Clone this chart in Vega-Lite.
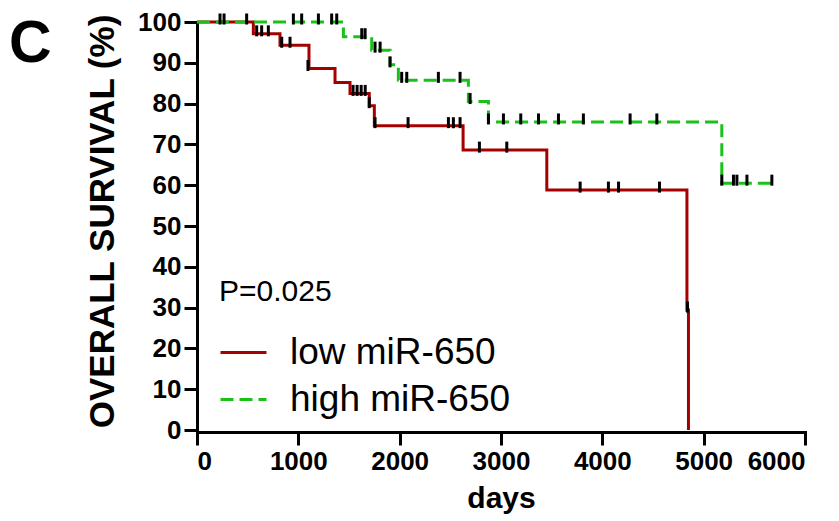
{
  "$schema": "https://vega.github.io/schema/vega-lite/v6.json",
  "width": 608,
  "height": 408,
  "autosize": {"type": "none"},
  "padding": {"left": 197, "top": 22, "right": 34, "bottom": 91},
  "background": "white",
  "title": {"text": "C", "anchor": "start", "frame": "group", "orient": "top", "offset": -112, "baseline": "alphabetic", "align": "left", "dx": -188, "fontSize": 59, "fontWeight": "bold", "font": "Liberation Sans", "color": "black"},
  "datasets": {
    "curves": [
      {"group": "low miR-650", "day": 0, "survival": 100},
      {"group": "low miR-650", "day": 556, "survival": 97.1},
      {"group": "low miR-650", "day": 819, "survival": 94.3},
      {"group": "low miR-650", "day": 1105, "survival": 88.6},
      {"group": "low miR-650", "day": 1362, "survival": 85.2},
      {"group": "low miR-650", "day": 1510, "survival": 82.5},
      {"group": "low miR-650", "day": 1700, "survival": 79.5},
      {"group": "low miR-650", "day": 1750, "survival": 74.6},
      {"group": "low miR-650", "day": 2626, "survival": 68.6},
      {"group": "low miR-650", "day": 3452, "survival": 58.8},
      {"group": "low miR-650", "day": 4835, "survival": 29.4},
      {"group": "low miR-650", "day": 4850, "survival": 0},
      {"group": "high miR-650", "day": 0, "survival": 100},
      {"group": "high miR-650", "day": 1445, "survival": 96.4},
      {"group": "high miR-650", "day": 1724, "survival": 93.1},
      {"group": "high miR-650", "day": 1905, "survival": 89.5},
      {"group": "high miR-650", "day": 1987, "survival": 85.7},
      {"group": "high miR-650", "day": 2678, "survival": 80.5},
      {"group": "high miR-650", "day": 2876, "survival": 75.5},
      {"group": "high miR-650", "day": 5179, "survival": 60.5},
      {"group": "high miR-650", "day": 5673, "survival": 60.5}
    ],
    "censor": [
      {"group": "high miR-650", "day": 227, "survival": 100},
      {"group": "low miR-650", "day": 267, "survival": 100},
      {"group": "low miR-650", "day": 490, "survival": 100},
      {"group": "high miR-650", "day": 951, "survival": 100},
      {"group": "high miR-650", "day": 1033, "survival": 100},
      {"group": "high miR-650", "day": 1198, "survival": 100},
      {"group": "high miR-650", "day": 1329, "survival": 100},
      {"group": "high miR-650", "day": 1379, "survival": 100},
      {"group": "low miR-650", "day": 589, "survival": 97.1},
      {"group": "low miR-650", "day": 638, "survival": 97.1},
      {"group": "low miR-650", "day": 704, "survival": 97.1},
      {"group": "low miR-650", "day": 836, "survival": 94.3},
      {"group": "low miR-650", "day": 918, "survival": 94.3},
      {"group": "low miR-650", "day": 1095, "survival": 88.6},
      {"group": "low miR-650", "day": 1540, "survival": 82.5},
      {"group": "low miR-650", "day": 1580, "survival": 82.5},
      {"group": "low miR-650", "day": 1620, "survival": 82.5},
      {"group": "low miR-650", "day": 1660, "survival": 82.5},
      {"group": "low miR-650", "day": 1700, "survival": 79.5},
      {"group": "low miR-650", "day": 1757, "survival": 74.6},
      {"group": "low miR-650", "day": 2083, "survival": 74.6},
      {"group": "low miR-650", "day": 2481, "survival": 74.6},
      {"group": "low miR-650", "day": 2530, "survival": 74.6},
      {"group": "low miR-650", "day": 2596, "survival": 74.6},
      {"group": "low miR-650", "day": 2787, "survival": 68.6},
      {"group": "low miR-650", "day": 3057, "survival": 68.6},
      {"group": "low miR-650", "day": 3781, "survival": 58.8},
      {"group": "low miR-650", "day": 4060, "survival": 58.8},
      {"group": "low miR-650", "day": 4160, "survival": 58.8},
      {"group": "low miR-650", "day": 4564, "survival": 58.8},
      {"group": "low miR-650", "day": 4840, "survival": 29.4},
      {"group": "high miR-650", "day": 1626, "survival": 96.4},
      {"group": "high miR-650", "day": 1659, "survival": 96.4},
      {"group": "high miR-650", "day": 1757, "survival": 93.1},
      {"group": "high miR-650", "day": 1807, "survival": 93.1},
      {"group": "high miR-650", "day": 1905, "survival": 89.5},
      {"group": "high miR-650", "day": 2020, "survival": 85.7},
      {"group": "high miR-650", "day": 2070, "survival": 85.7},
      {"group": "high miR-650", "day": 2382, "survival": 85.7},
      {"group": "high miR-650", "day": 2596, "survival": 85.7},
      {"group": "high miR-650", "day": 2695, "survival": 80.5},
      {"group": "high miR-650", "day": 2876, "survival": 75.5},
      {"group": "high miR-650", "day": 3024, "survival": 75.5},
      {"group": "high miR-650", "day": 3195, "survival": 75.5},
      {"group": "high miR-650", "day": 3370, "survival": 75.5},
      {"group": "high miR-650", "day": 3567, "survival": 75.5},
      {"group": "high miR-650", "day": 3813, "survival": 75.5},
      {"group": "high miR-650", "day": 4274, "survival": 75.5},
      {"group": "high miR-650", "day": 4538, "survival": 75.5},
      {"group": "high miR-650", "day": 5179, "survival": 60.5},
      {"group": "high miR-650", "day": 5294, "survival": 60.5},
      {"group": "high miR-650", "day": 5328, "survival": 60.5},
      {"group": "high miR-650", "day": 5427, "survival": 60.5},
      {"group": "high miR-650", "day": 5673, "survival": 60.5}
    ]
  },
  "layer": [
    {
      "data": {"name": "curves"},
      "mark": {"type": "line", "interpolate": "step-after", "strokeWidth": 3},
      "encoding": {
        "x": {"field": "day", "type": "quantitative", "scale": {"domain": [0, 6000], "nice": false}, "axis": {"title": "days", "values": [0, 1000, 2000, 3000, 4000, 5000, 6000], "format": "d", "offset": 2, "titleFontSize": 30, "titlePadding": 9}},
        "y": {"field": "survival", "type": "quantitative", "scale": {"domain": [0, 100], "nice": false}, "axis": {"title": "OVERALL SURVIVAL (%)", "values": [0, 10, 20, 30, 40, 50, 60, 70, 80, 90, 100], "titleFontSize": 35, "titlePadding": 17, "titleY": 199}},
        "color": {"field": "group", "type": "nominal", "title": "P=0.025", "scale": {"domain": ["low miR-650", "high miR-650"], "range": ["#a50000", "#19c119"]}},
        "strokeDash": {"field": "group", "type": "nominal", "title": "P=0.025", "scale": {"domain": ["low miR-650", "high miR-650"], "range": [[1, 0], [13, 6]]}}
      }
    },
    {
      "data": {"name": "censor"},
      "mark": {"type": "tick", "orient": "vertical", "color": "black", "opacity": 1, "size": 11, "thickness": 3, "yOffset": -3},
      "encoding": {
        "x": {"field": "day", "type": "quantitative"},
        "y": {"field": "survival", "type": "quantitative"}
      }
    }
  ],
  "config": {
    "view": {"stroke": null},
    "axis": {
      "grid": false,
      "domainColor": "black",
      "domainWidth": 3,
      "domainCap": "square",
      "tickColor": "black",
      "tickWidth": 3,
      "tickSize": 13,
      "labelPadding": 3,
      "labelFont": "Liberation Sans",
      "labelFontSize": 26,
      "labelFontWeight": "bold",
      "labelColor": "black",
      "titleFont": "Liberation Sans",
      "titleFontWeight": "bold",
      "titleColor": "black"
    },
    "legend": {
      "orient": "none",
      "legendX": 22,
      "legendY": 255,
      "padding": 0,
      "titleFont": "Liberation Sans",
      "titleFontSize": 30,
      "titleFontWeight": "normal",
      "titleColor": "black",
      "titlePadding": 21,
      "titleLimit": 400,
      "labelFont": "Liberation Sans",
      "labelFontSize": 37,
      "labelColor": "black",
      "labelLimit": 400,
      "labelOffset": 22,
      "rowPadding": 4,
      "symbolType": "stroke",
      "symbolSize": 2116,
      "symbolStrokeWidth": 3
    }
  }
}
